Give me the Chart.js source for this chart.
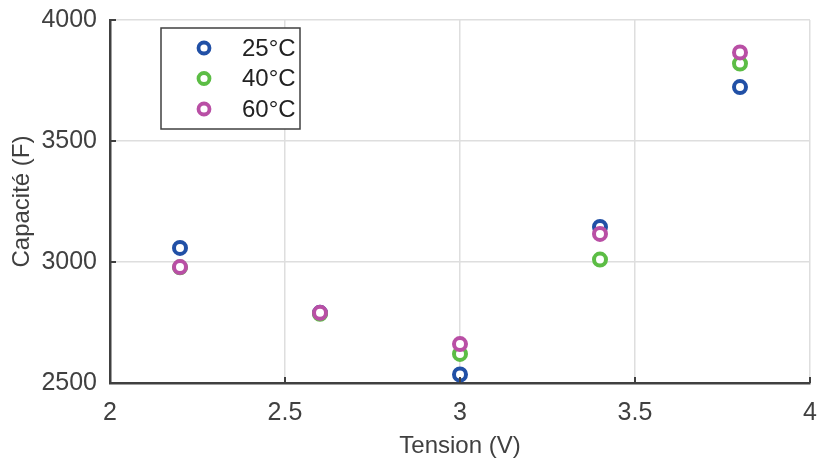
<!DOCTYPE html>
<html>
<head>
<meta charset="utf-8">
<script src="https://cdn.jsdelivr.net/npm/chart.js@4.4.1/dist/chart.umd.min.js"></script>
<style>
  html, body { margin: 0; padding: 0; background: #fff; }
  #wrap { width: 820px; height: 459px; }
</style>
</head>
<body>
<div id="wrap"><canvas id="myChart"></canvas></div>
<script>
// data
var tension = [2.2, 2.6, 3.0, 3.4, 3.8];
var cap25 = [3058, 2790, 2535, 3145, 3723];
var cap40 = [2978, 2786, 2620, 3010, 3820];
var cap60 = [2979, 2790, 2661, 3116, 3866];
var seriesNames = ['25°C', '40°C', '60°C'];
var xTicks = [2, 2.5, 3, 3.5, 4];
var yTicks = [2500, 3000, 3500, 4000];

var colors = ['#2150a6', '#5cbd45', '#b94fa5'];
var textColor = '#404040';
var family = '"Liberation Sans", Arial, sans-serif';
var font = { family: family, size: 24 };
var tickFont = { family: family, size: 25 };

function pts(ys) {
  return tension.map(function (x, i) { return { x: x, y: ys[i] }; });
}

var datasets = [cap25, cap40, cap60].map(function (ys, i) {
  return {
    label: seriesNames[i],
    data: pts(ys),
    borderColor: colors[i],
    backgroundColor: '#ffffff',
    pointRadius: 6,
    pointBorderWidth: 4,
    pointHoverRadius: 6,
    showLine: false,
    order: 3 - i
  };
});

// small inward tick marks like matlab
var innerTicks = {
  id: 'innerTicks',
  afterDatasetsDraw: function (chart) {
    var ctx = chart.ctx, a = chart.chartArea;
    var xs = chart.scales.x, ys = chart.scales.y;
    ctx.save();
    ctx.strokeStyle = textColor;
    ctx.lineWidth = 2;
    xTicks.forEach(function (v) {
      var px = xs.getPixelForValue(v);
      ctx.beginPath(); ctx.moveTo(px, a.bottom); ctx.lineTo(px, a.bottom - 6); ctx.stroke();
    });
    yTicks.forEach(function (v) {
      var py = ys.getPixelForValue(v);
      ctx.beginPath(); ctx.moveTo(a.left, py); ctx.lineTo(a.left + 6, py); ctx.stroke();
    });
    ctx.restore();
  }
};

// legend box inside the plot
var boxLegend = {
  id: 'boxLegend',
  afterDraw: function (chart) {
    var ctx = chart.ctx;
    var x0 = 161, y0 = 28, w = 139, h = 101;
    ctx.save();
    ctx.fillStyle = '#fff';
    ctx.fillRect(x0, y0, w, h);
    ctx.strokeStyle = textColor;
    ctx.lineWidth = 1.5;
    ctx.strokeRect(x0, y0, w, h);
    ctx.font = font.size + 'px ' + font.family;
    ctx.textBaseline = 'middle';
    ctx.textAlign = 'left';
    chart.data.datasets.forEach(function (ds, i) {
      var yy = y0 + 20 + i * 30.5;
      ctx.beginPath();
      ctx.arc(x0 + 43, yy, 5.5, 0, Math.PI * 2);
      ctx.fillStyle = '#fff';
      ctx.fill();
      ctx.lineWidth = 3.8;
      ctx.strokeStyle = ds.borderColor;
      ctx.stroke();
      ctx.fillStyle = '#222';
      ctx.fillText(ds.label, x0 + 81, yy + 1);
    });
    ctx.restore();
  }
};

function noPad(s) {
  s.paddingTop = 0; s.paddingBottom = 0; s.paddingLeft = 0; s.paddingRight = 0;
}

var ctx = document.getElementById('myChart').getContext('2d');
var chart = new Chart(ctx, {
  type: 'scatter',
  data: { datasets: datasets },
  options: {
    responsive: true,
    maintainAspectRatio: false,
    animation: false,
    layout: { padding: { top: 20, right: 9, left: 0, bottom: 0 } },
    plugins: { legend: { display: false }, tooltip: { enabled: false } },
    scales: {
      x: {
        type: 'linear',
        min: 2, max: 4,
        afterBuildTicks: function (s) { s.ticks = xTicks.map(function (v) { return { value: v }; }); },
        afterFit: function (s) { s.height = 76; noPad(s); },
        ticks: { color: textColor, font: tickFont, padding: 15, maxRotation: 0,
          callback: function (v) { return String(v); } },
        grid: { color: '#dedede', lineWidth: 1.5, drawTicks: false },
        border: { color: textColor, width: 2.5 },
        title: { display: true, text: 'Tension (V)', color: textColor, font: font, padding: { top: 0, bottom: -2 } }
      },
      y: {
        min: 2500, max: 4000,
        afterBuildTicks: function (s) { s.ticks = yTicks.map(function (v) { return { value: v }; }); },
        afterFit: function (s) { s.width = 110; noPad(s); },
        ticks: { color: textColor, font: tickFont, padding: 13,
          callback: function (v) { return String(v); } },
        grid: { color: '#dedede', lineWidth: 1.5, drawTicks: false },
        border: { color: textColor, width: 2.5 },
        title: { display: true, text: 'Capacité (F)', color: textColor, font: font, padding: { top: 8, bottom: 0 } }
      }
    }
  },
  plugins: [innerTicks, boxLegend]
});
</script>
</body>
</html>
